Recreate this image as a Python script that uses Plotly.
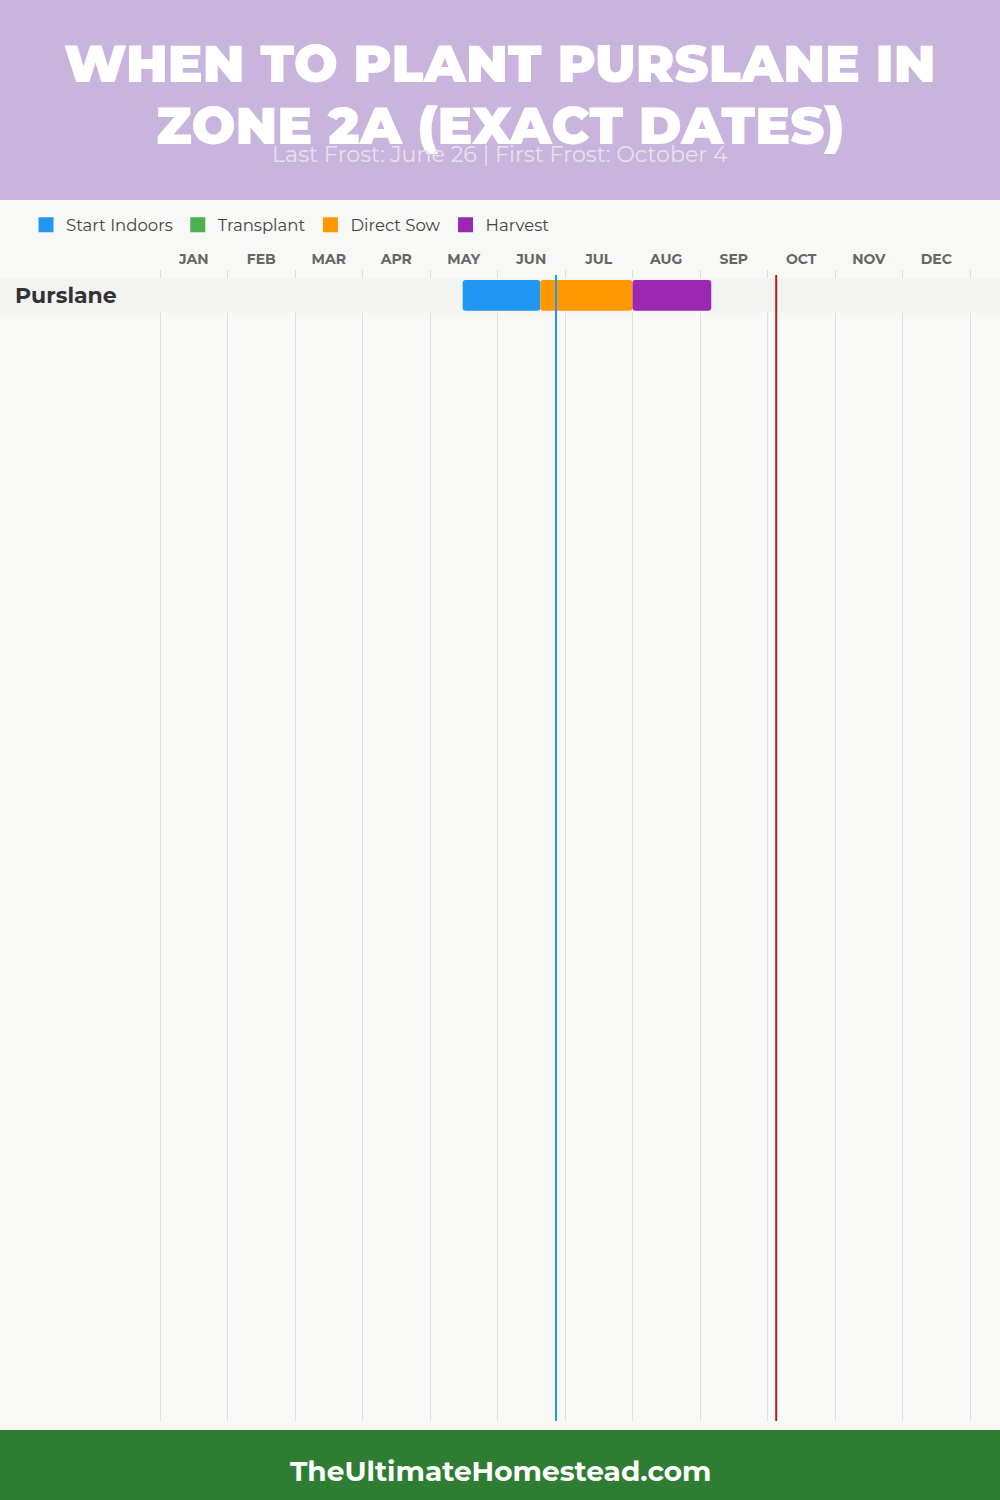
import plotly.graph_objects as go

# ---------------- data ----------------
title_lines = ["WHEN TO PLANT PURSLANE IN", "ZONE 2A (EXACT DATES)"]
subtitle = "Last Frost: June 26 | First Frost: October 4"
footer = "TheUltimateHomestead.com"
months = ["JAN", "FEB", "MAR", "APR", "MAY", "JUN", "JUL", "AUG", "SEP", "OCT", "NOV", "DEC"]
days_in_month = [31, 28, 31, 30, 31, 30, 31, 31, 30, 31, 30, 31]
crops = ["Purslane"]
stages = ["Start Indoors", "Transplant", "Direct Sow", "Harvest"]
stage_colors = ["#2196F3", "#4CAF50", "#FF9800", "#9C27B0"]
# (month, day) start / end per stage for each crop; None = no period
stage_start = {"Start Indoors": [(5, 15)], "Transplant": [None], "Direct Sow": [(6, 19)], "Harvest": [(7, 31)]}
stage_end = {"Start Indoors": [(6, 19)], "Transplant": [None], "Direct Sow": [(7, 31)], "Harvest": [(9, 5)]}
last_frost = (6, 26)
first_frost = (10, 4)

FONT = "Montserrat, Inter, 'Open Sans', sans-serif"


def pos(md):
    m, d = md
    return (m - 1) + d / days_in_month[m - 1]


fig = go.Figure()

# bars
for stage, color in zip(stages, stage_colors):
    xs, bases, ys = [], [], []
    for i, crop in enumerate(crops):
        s, e = stage_start[stage][i], stage_end[stage][i]
        if s is None:
            continue
        bases.append(pos(s))
        xs.append(pos(e) - pos(s))
        ys.append(crop)
    fig.add_trace(go.Bar(
        x=xs, base=bases, y=ys, orientation="h", width=0.877,
        marker=dict(color=color, cornerradius=3, line=dict(width=0)),
        name=stage, legendgroup=stage, showlegend=False, hoverinfo="skip",
    ))
    # legend entry
    fig.add_trace(go.Scatter(
        x=[None], y=[None], mode="markers", name=stage, legendgroup=stage,
        marker=dict(symbol="square", size=15, color=color),
    ))

# layout geometry (pixels)
W, H = 1000, 1500
grid_left, grid_right = 160.0, 970.0
px_per_month = (grid_right - grid_left) / 12
x_lo = -grid_left / px_per_month
x_hi = 12 + (W - grid_right) / px_per_month
plot_top, plot_bot = 270, 1421
row_px = 35.0
row_center_off = 25.3
units = (plot_bot - plot_top) / row_px
top_u = -row_center_off / row_px

shapes = [
    # header band
    dict(type="rect", xref="paper", yref="paper", x0=0, x1=1, y0=1 - 200 / H, y1=1,
         fillcolor="#C8B4DD", line=dict(width=0), layer="below"),
    # footer band
    dict(type="rect", xref="paper", yref="paper", x0=0, x1=1, y0=0, y1=70 / H,
         fillcolor="#2E7D32", line=dict(width=0), layer="below"),
]
for i, crop in enumerate(crops):
    shapes.append(dict(type="rect", xref="x", yref="y", x0=x_lo, x1=x_hi, y0=i - 0.5, y1=i + 0.5,
                       fillcolor="#F3F3F2", line=dict(width=0), layer="between"))
for md, col in [(last_frost, "#2196F3"), (first_frost, "#B71C1C")]:
    shapes.append(dict(type="line", xref="x", yref="y domain", x0=pos(md), x1=pos(md),
                       y0=0, y1=1 - 5 / (plot_bot - plot_top),
                       line=dict(color=col, width=2), layer="above"))

annotations = [
    dict(text=title_lines[0], xref="paper", yref="paper", x=0.5, y=1 - 63 / H, showarrow=False,
         xanchor="center", yanchor="middle",
         font=dict(family=FONT, size=52, color="white", weight=900)),
    dict(text=title_lines[1], xref="paper", yref="paper", x=0.5, y=1 - 125 / H, showarrow=False,
         xanchor="center", yanchor="middle",
         font=dict(family=FONT, size=52, color="white", weight=900)),
    dict(text=subtitle, xref="paper", yref="paper", x=0.5, y=1 - 155 / H, showarrow=False,
         xanchor="center", yanchor="middle",
         font=dict(family=FONT, size=22.2, color="#E6E3EA")),
    dict(text=footer, xref="paper", yref="paper", x=0.5, y=1 - 1471 / H, showarrow=False,
         xanchor="center", yanchor="middle",
         font=dict(family=FONT, size=28, color="white", weight=700)),
]
for i, crop in enumerate(crops):
    annotations.append(dict(text=crop, xref="paper", yref="y", x=0.013, y=crop, showarrow=False,
                            xanchor="left", yanchor="middle",
                            font=dict(family=FONT, size=22, color="#333333", weight=700)))

fig.update_layout(
    width=W, height=H,
    margin=dict(l=0, r=0, t=0, b=0),
    paper_bgcolor="#F8F8F6", plot_bgcolor="#F8F8F6",
    barmode="overlay",
    showlegend=True,
    legend=dict(orientation="h", x=0.026, y=1 - 225 / H, xanchor="left", yanchor="middle",
                font=dict(family=FONT, size=16.5, color="#444444"), bgcolor="rgba(0,0,0,0)",
                itemclick=False, itemdoubleclick=False),
    xaxis=dict(domain=[0, 1], range=[x_lo, x_hi], side="top",
               tickmode="array", tickvals=[i + 0.5 for i in range(12)], ticktext=months,
               showgrid=False, zeroline=False, showline=False, ticks="",
               ticklabelstandoff=2,
               tickfont=dict(family=FONT, size=14, color="#666666", weight=700),
               minor=dict(tickmode="array", tickvals=list(range(13)), showgrid=True,
                          gridcolor="#DDDDDD", gridwidth=1, ticks=""),
               fixedrange=True),
    yaxis=dict(domain=[1 - plot_bot / H, 1 - plot_top / H], type="category",
               categoryorder="array", categoryarray=crops,
               range=[units + top_u, top_u], showticklabels=False, showgrid=False,
               zeroline=False, showline=False, fixedrange=True),
    shapes=shapes,
    annotations=annotations,
)

fig.write_html("out.html", config={"displayModeBar": False},
               post_script="document.body.style.margin='0';")
